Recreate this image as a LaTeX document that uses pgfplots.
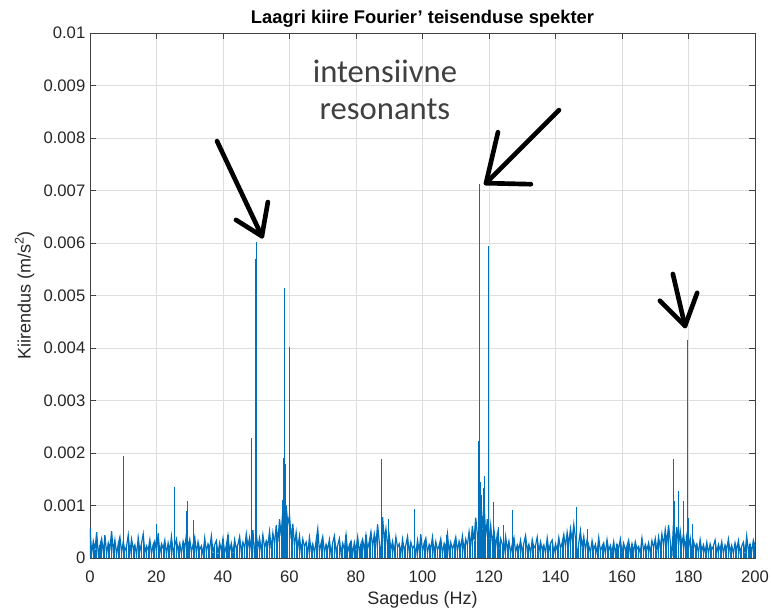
\documentclass[border=0pt]{standalone}
\usepackage{pgfplots}
\pgfplotsset{compat=1.18}
\usepackage{pgfplotstable}
\usepackage{fontspec}
\setmainfont{Liberation Sans}
\newfontfamily\calibri{Carlito}
\definecolor{mblue}{HTML}{0072BD}
\definecolor{axgray}{HTML}{404040}

% noise floor, 0 to 200 Hz in steps of 0.5 Hz
\pgfplotstableread[row sep=\\,header=false]{
5.8e-4\\0.9e-4\\3.2e-4\\1.6e-4\\4.9e-4\\0.7e-4\\2.4e-4\\3.7e-4\\1.1e-4\\4.3e-4\\0.8e-4\\2.9e-4\\1.9e-4\\5.1e-4\\1.2e-4\\3.4e-4\\0.6e-4\\2.7e-4\\4.0e-4\\1.0e-4\\
3.1e-4\\1.4e-4\\2.2e-4\\4.4e-4\\0.9e-4\\3.6e-4\\1.7e-4\\2.5e-4\\0.6e-4\\3.9e-4\\1.3e-4\\2.8e-4\\4.6e-4\\1.0e-4\\2.3e-4\\1.5e-4\\3.5e-4\\0.8e-4\\2.6e-4\\3.3e-4\\
1.2e-4\\4.7e-4\\0.9e-4\\2.7e-4\\1.8e-4\\3.4e-4\\0.7e-4\\2.9e-4\\1.4e-4\\4.1e-4\\1.0e-4\\2.4e-4\\3.6e-4\\1.3e-4\\2.8e-4\\0.8e-4\\3.2e-4\\1.9e-4\\4.5e-4\\2.2e-4\\
3.6e-4\\1.1e-4\\2.6e-4\\4.0e-4\\0.9e-4\\3.1e-4\\1.6e-4\\2.3e-4\\0.7e-4\\3.8e-4\\1.2e-4\\2.7e-4\\1.8e-4\\4.2e-4\\1.0e-4\\2.5e-4\\3.3e-4\\0.8e-4\\2.9e-4\\1.4e-4\\
3.7e-4\\1.0e-4\\2.4e-4\\4.3e-4\\1.3e-4\\2.8e-4\\0.9e-4\\3.5e-4\\1.7e-4\\2.6e-4\\4.1e-4\\1.2e-4\\3.0e-4\\1.8e-4\\4.6e-4\\2.2e-4\\3.9e-4\\1.6e-4\\5.3e-4\\0.3e-4\\
4.6e-4\\2.0e-4\\3.8e-4\\1.4e-4\\4.4e-4\\1.9e-4\\3.3e-4\\2.5e-4\\5.1e-4\\1.7e-4\\4.8e-4\\2.6e-4\\6.2e-4\\3.1e-4\\7.4e-4\\4.2e-4\\9.5e-4\\0.3e-4\\10.0e-4\\6.4e-4\\
8.2e-4\\3.6e-4\\6.5e-4\\2.3e-4\\4.9e-4\\1.9e-4\\4.2e-4\\1.3e-4\\3.6e-4\\2.1e-4\\3.0e-4\\1.0e-4\\3.9e-4\\1.5e-4\\2.7e-4\\0.9e-4\\3.3e-4\\5.6e-4\\1.2e-4\\2.8e-4\\
4.1e-4\\1.0e-4\\2.6e-4\\1.7e-4\\3.5e-4\\0.8e-4\\2.9e-4\\4.2e-4\\1.3e-4\\2.4e-4\\3.7e-4\\0.9e-4\\2.8e-4\\1.6e-4\\4.4e-4\\1.1e-4\\2.5e-4\\3.2e-4\\0.7e-4\\3.0e-4\\
1.5e-4\\4.0e-4\\1.1e-4\\2.7e-4\\3.6e-4\\1.4e-4\\4.3e-4\\1.8e-4\\3.1e-4\\5.0e-4\\2.1e-4\\4.6e-4\\2.7e-4\\6.4e-4\\3.0e-4\\0.3e-4\\7.8e-4\\3.4e-4\\5.6e-4\\2.3e-4\\
4.3e-4\\1.6e-4\\3.2e-4\\1.1e-4\\4.0e-4\\2.0e-4\\2.7e-4\\0.9e-4\\3.6e-4\\1.4e-4\\2.5e-4\\4.1e-4\\1.2e-4\\3.0e-4\\1.7e-4\\2.4e-4\\0.8e-4\\3.4e-4\\1.3e-4\\4.5e-4\\
1.1e-4\\2.9e-4\\3.8e-4\\1.0e-4\\2.6e-4\\1.8e-4\\4.0e-4\\0.9e-4\\3.1e-4\\1.5e-4\\2.4e-4\\3.7e-4\\0.8e-4\\2.8e-4\\1.9e-4\\4.6e-4\\1.2e-4\\3.0e-4\\1.6e-4\\2.7e-4\\
4.0e-4\\1.3e-4\\3.2e-4\\1.9e-4\\4.2e-4\\1.5e-4\\3.6e-4\\2.4e-4\\5.0e-4\\2.2e-4\\6.1e-4\\3.3e-4\\7.7e-4\\4.5e-4\\0.3e-4\\9.8e-4\\5.6e-4\\11.0e-4\\4.1e-4\\7.4e-4\\
3.6e-4\\6.3e-4\\2.8e-4\\5.2e-4\\2.1e-4\\4.6e-4\\1.8e-4\\3.7e-4\\2.6e-4\\1.2e-4\\4.1e-4\\1.6e-4\\3.2e-4\\0.9e-4\\2.7e-4\\3.9e-4\\1.1e-4\\2.5e-4\\1.7e-4\\3.4e-4\\
1.0e-4\\2.9e-4\\4.3e-4\\1.4e-4\\2.6e-4\\0.8e-4\\3.5e-4\\1.9e-4\\2.4e-4\\4.0e-4\\1.2e-4\\3.1e-4\\1.6e-4\\2.5e-4\\0.9e-4\\3.8e-4\\1.3e-4\\2.8e-4\\3.4e-4\\1.0e-4\\
2.7e-4\\1.5e-4\\3.9e-4\\1.8e-4\\2.9e-4\\4.5e-4\\2.1e-4\\4.9e-4\\2.6e-4\\5.6e-4\\3.4e-4\\6.4e-4\\3.8e-4\\0.3e-4\\2.9e-4\\5.2e-4\\2.0e-4\\4.1e-4\\1.5e-4\\3.5e-4\\
2.4e-4\\1.0e-4\\3.3e-4\\1.6e-4\\2.6e-4\\0.9e-4\\3.9e-4\\1.3e-4\\2.2e-4\\2.9e-4\\0.8e-4\\3.5e-4\\1.4e-4\\2.4e-4\\1.1e-4\\3.1e-4\\0.9e-4\\2.6e-4\\1.8e-4\\3.6e-4\\
0.9e-4\\2.8e-4\\1.5e-4\\2.3e-4\\3.4e-4\\0.8e-4\\2.7e-4\\1.2e-4\\3.1e-4\\1.7e-4\\2.2e-4\\0.9e-4\\3.8e-4\\1.3e-4\\2.6e-4\\1.6e-4\\2.9e-4\\1.0e-4\\3.3e-4\\1.9e-4\\
3.7e-4\\1.4e-4\\4.0e-4\\1.9e-4\\4.6e-4\\2.3e-4\\5.4e-4\\2.8e-4\\6.3e-4\\3.2e-4\\0.3e-4\\6.8e-4\\2.9e-4\\5.9e-4\\2.3e-4\\5.2e-4\\2.5e-4\\4.6e-4\\1.9e-4\\4.3e-4\\
1.7e-4\\3.8e-4\\1.3e-4\\3.2e-4\\2.0e-4\\2.7e-4\\0.9e-4\\3.5e-4\\1.4e-4\\2.5e-4\\1.1e-4\\3.0e-4\\0.8e-4\\2.7e-4\\1.6e-4\\2.3e-4\\3.4e-4\\1.0e-4\\2.6e-4\\1.5e-4\\
3.1e-4\\0.9e-4\\2.5e-4\\1.7e-4\\3.6e-4\\1.2e-4\\2.4e-4\\0.8e-4\\2.9e-4\\1.5e-4\\3.3e-4\\1.1e-4\\2.2e-4\\3.0e-4\\0.9e-4\\4.2e-4\\1.4e-4\\2.6e-4\\1.2e-4\\3.4e-4\\
2.3e-4\\
}\noisedata

\begin{document}
\begin{tikzpicture}
\useasboundingbox (-67.5pt,-37.5pt) rectangle (510.75pt,418.5pt);
\begin{axis}[
  scale only axis, width=498.75pt, height=393.75pt,
  xmin=0, xmax=200, ymin=0, ymax=0.01,
  xtick={0,20,40,60,80,100,120,140,160,180,200},
  ytick={0,0.001,0.002,0.003,0.004,0.005,0.006,0.007,0.008,0.009,0.01},
  grid=major, major grid style={color=black!13, line width=0.4pt},
  axis line style={axgray, line width=0.5pt},
  tick style={axgray, line width=0.5pt},
  tick align=inside, major tick length=4.5pt,
  /pgf/number format/assume math mode=true,
  ticklabel style={font=\fontsize{12.5}{14}\selectfont, color=black!85},
  xticklabel style={yshift=-6pt},
  scaled y ticks=false,
  yticklabel style={/pgf/number format/fixed, /pgf/number format/precision=3},
  xlabel={Sagedus (Hz)},
  ylabel={Kiirendus (m/s\textsuperscript{2})},
  label style={font=\fontsize{13.5}{15}\selectfont, color=black!85},
  title={Laagri kiire Fourier’ teisenduse spekter},
  title style={font=\fontsize{13.75}{15}\selectfont\bfseries, yshift=-5pt},
]
\addplot[mblue, line width=0.8pt, ycomb, no markers] table[x expr=\coordindex*0.5, y index=0] {\noisedata};
\addplot[mblue, line width=0.9pt, no markers] table[x expr=\coordindex*0.5, y index=0] {\noisedata};
\addplot[mblue, line width=0.7pt, ycomb, no markers] coordinates {
(10.0,0.00195) (19.9,0.00065) (25.3,0.00135) (28.9,0.00090) (29.4,0.00109) (31.2,0.00072)
(48.6,0.00228) (49.9,0.00570) (50.0,0.00601)
(58.0,0.00110) (58.3,0.00191) (58.5,0.00514) (58.6,0.00301) (58.8,0.00180) (59.95,0.00401)
(87.7,0.00188) (87.8,0.00095) (89.7,0.00074) (97.7,0.00093) (107.3,0.00044)
(116.8,0.00223) (117.1,0.00712) (117.3,0.00145) (117.6,0.00120) (118.4,0.00133) (118.5,0.00156)
(119.8,0.00594) (121.3,0.00106) (122.7,0.00060) (124.5,0.00063) (127.0,0.00091)
(146.4,0.00097) (149.7,0.00055)
(175.4,0.00188) (175.7,0.00108) (176.9,0.00128) (178.4,0.00109) (179.6,0.00415) (179.9,0.00077) (181.1,0.00065)
};
\node[font=\calibri\fontsize{24.5}{27.75}\selectfont, color=black!75, align=center] at (axis cs:88.7,0.00891) {intensiivne\\resonants};
\begin{scope}[line width=3.5pt, line cap=round, line join=round, black]
\draw (axis cs:38.2,0.00794) -- (axis cs:51.7,0.00613);
\draw (axis cs:43.9,0.00644) -- (axis cs:51.7,0.00613) -- (axis cs:53.5,0.00678);
\draw (axis cs:141.05,0.00853) -- (axis cs:119.1,0.00714);
\draw (axis cs:122.7,0.00811) -- (axis cs:119.1,0.00714) -- (axis cs:132.6,0.00712);
\draw (axis cs:175.3,0.00541) -- (axis cs:178.95,0.00442);
\draw (axis cs:171.4,0.00490) -- (axis cs:178.95,0.00442) -- (axis cs:182.6,0.00505);
\end{scope}
\end{axis}
\end{tikzpicture}
\end{document}
